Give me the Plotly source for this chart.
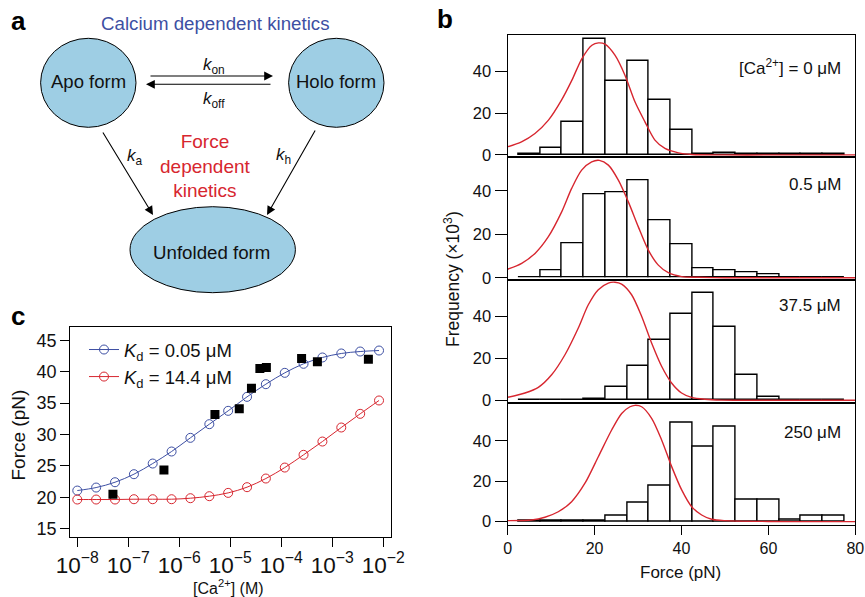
import plotly.graph_objects as go

W, H = 865, 597
FONT = "Liberation Sans, Arial, Helvetica, sans-serif"
BLUE = "#3D4FA3"
RED = "#D7262F"
FILL = "#9ECEE4"

# ---------------- Panel c data ----------------
conc = [1.0e-8, 2.34e-8, 5.49e-8, 1.29e-7, 3.01e-7, 7.06e-7, 1.65e-6, 3.88e-6,
        9.08e-6, 2.13e-5, 4.98e-5, 1.17e-4, 2.73e-4, 6.4e-4, 1.5e-3, 3.52e-3, 8.24e-3]
force_kd005 = [21.06, 21.54, 22.39, 23.67, 25.37, 27.29, 29.47, 31.65, 33.78,
               36.01, 38.03, 39.84, 41.28, 42.29, 42.93, 43.24, 43.40]
force_kd144 = [19.63, 19.63, 19.63, 19.68, 19.68, 19.68, 19.84, 20.16, 20.69,
               21.6, 22.98, 24.73, 26.76, 28.88, 31.12, 33.30, 35.43]
exp_conc = [5e-8, 5e-7, 5e-6, 1.5e-5, 2.6e-5, 3.8e-5, 5.1e-5, 2.5e-4, 5.1e-4, 5.1e-3]
exp_force = [20.48, 24.36, 33.19, 34.10, 37.39, 40.53, 40.69, 42.13, 41.60, 42.02]

# ---------------- Panel b data ----------------
bins = [5, 10, 15, 20, 25, 30, 35, 40, 45, 50, 55, 60, 65, 70, 75]
freq_0 = [0.4, 3.1, 15.7, 55.7, 35.7, 44.9, 26.6, 12.2, 0.2, 1.0, 0.2, 0.2, 0.2, 0.2, 0.2]
freq_05 = [0.4, 3.2, 16.0, 38.6, 39.3, 44.6, 26.5, 15.2, 4.3, 3.5, 2.6, 1.8, 0.2, 0.2, 0.2]
freq_375 = [0.3, 0.3, 0.3, 0.8, 6.2, 16.4, 29.0, 41.3, 51.2, 35.2, 12.1, 1.7, 0.2, 0.2, 0.2]
freq_250 = [0.3, 0.3, 0.3, 0.3, 2.8, 9.4, 17.6, 48.7, 37.2, 47.1, 11.0, 11.0, 1.2, 2.8, 2.8]

fit0_x = [0, 3.2, 6.3, 9.4, 12.4, 14.8, 17.1, 19.4, 20.9, 22.4, 24.7, 27.0, 29.3, 31.6,
          33.9, 36.2, 39.3, 42.4, 50, 60, 70, 80]
fit0_y = [3.9, 6.3, 10.3, 16.7, 26.3, 35.9, 46.3, 52.7, 53.8, 53.2, 47.9, 38.3, 25.5, 15.9,
          7.1, 3.1, 1.0, 0.2, 0, 0, 0, 0]
fit05_x = [0, 3.24, 6.31, 9.38, 12.44, 14.74, 17.04, 19.34, 21.1, 23.18, 25.48, 27.78,
           30.08, 32.38, 34.68, 36.98, 40.05, 43.9, 50, 60, 70, 80]
fit05_y = [3.9, 6.6, 11.2, 18.9, 30.3, 41.1, 49.5, 53.3, 54.0, 51.8, 44.9, 34.9, 23.4,
           12.7, 5.8, 2.3, 0.5, 0.2, 0, 0, 0, 0]
fit375_x = [0, 4.0, 7.07, 10.13, 13.2, 16.27, 18.57, 20.87, 23.17, 24.7, 26.23, 28.53,
            30.83, 33.13, 35.43, 37.73, 40.03, 42.33, 45.4, 49.2, 60, 70, 80]
fit375_y = [1.4, 3.5, 6.2, 12.2, 21.8, 34.6, 45.7, 52.9, 56.1, 56.5, 55.6, 50.5, 40.2,
            27.4, 16.3, 8.3, 3.5, 1.4, 0.5, 0.1, 0, 0, 0]
fit250_x = [0, 5.52, 8.59, 11.66, 14.73, 17.8, 20.87, 23.94, 26.24, 28.16, 29.31, 30.84,
            33.14, 35.44, 37.75, 40.05, 42.35, 44.65, 46.95, 50.02, 60, 70, 80]
fit250_y = [0.5, 0.8, 2.2, 4.9, 9.9, 19.0, 32.1, 45.3, 53.5, 56.8, 57.5, 56.8, 51.1,
            40.4, 27.2, 15.7, 7.4, 3.3, 1.2, 0.5, 0.1, 0, 0]

panel_labels = ["[Ca<sup>2+</sup>] = 0 μM", "0.5 μM", "37.5 μM", "250 μM"]
freq_sets = [freq_0, freq_05, freq_375, freq_250]
fit_sets = [(fit0_x, fit0_y), (fit05_x, fit05_y), (fit375_x, fit375_y), (fit250_x, fit250_y)]


def px(x):
    return x / W


def py(y):
    return 1 - y / H


fig = go.Figure()

# ---- panel b histograms ----
panel_tops = [35, 157.3, 279.9, 402.7, 524.7]
y_ranges = [[-1.15, 57.6], [-1.0, 55.4], [-1.15, 57.6], [-1.5, 58.8]]
label_y = [66.7, 185, 305, 432.7]
for i in range(4):
    xa = "x%d" % (i + 2)
    ya = "y%d" % (i + 2)
    fig.add_trace(go.Bar(x=bins, y=freq_sets[i], width=5, xaxis=xa, yaxis=ya,
                         marker=dict(color="white", line=dict(color="black", width=1.4)),
                         showlegend=False, hoverinfo="skip"))
    fx, fy = fit_sets[i]
    fig.add_trace(go.Scatter(x=fx, y=fy, mode="lines", xaxis=xa, yaxis=ya,
                             line=dict(color=RED, width=1.4, shape="spline", smoothing=0.8),
                             showlegend=False, hoverinfo="skip"))

# ---- panel c ----
fig.add_trace(go.Scatter(x=conc, y=force_kd005, mode="lines+markers",
                         name="<i>K</i><sub>d</sub> = 0.05 μM",
                         line=dict(color=BLUE, width=1, shape="spline"),
                         marker=dict(symbol="circle-open", size=9, color=BLUE, line=dict(width=1))))
fig.add_trace(go.Scatter(x=conc, y=force_kd144, mode="lines+markers",
                         name="<i>K</i><sub>d</sub> = 14.4 μM",
                         line=dict(color=RED, width=1, shape="spline"),
                         marker=dict(symbol="circle-open", size=9, color=RED, line=dict(width=1))))
fig.add_trace(go.Scatter(x=exp_conc, y=exp_force, mode="markers", showlegend=False,
                         marker=dict(symbol="square", size=9, color="black")))

axis_common = dict(showline=True, mirror=True, linecolor="black", linewidth=1.2,
                   showgrid=False, zeroline=False, tickcolor="black", tickwidth=1.2,
                   automargin=False, ticklabeloverflow="allow",
                   tickfont=dict(family=FONT, size=18, color="#111"))

layout = dict(
    template="none",
    width=W, height=H, margin=dict(l=0, r=0, t=0, b=0, pad=0),
    paper_bgcolor="white", plot_bgcolor="white",
    font=dict(family=FONT, color="#111"),
    bargap=0,
    showlegend=True,
    legend=dict(x=px(84), y=py(331), xanchor="left", yanchor="top",
                bgcolor="rgba(0,0,0,0)", font=dict(family=FONT, size=18.5, color="#111"),
                itemwidth=30, tracegroupgap=0, borderwidth=0),
    xaxis=dict(axis_common, type="log", range=[-8.137, -1.855], dtick=1,
               exponentformat="power", ticks="outside", ticklen=9,
               domain=[px(70.3), px(390.7)], anchor="y"),
    yaxis=dict(axis_common, range=[13.7, 47.2], tickvals=[15, 20, 25, 30, 35, 40, 45],
               ticks="outside", ticklen=9,
               domain=[py(536.7), py(326.7)], anchor="x"),
)

for i in range(4):
    top, bot = panel_tops[i], panel_tops[i + 1]
    last = (i == 3)
    layout["xaxis%d" % (i + 2)] = dict(axis_common, range=[0, 80],
                                       domain=[px(507.6), px(855.3)], anchor="y%d" % (i + 2),
                                       tickvals=[0, 20, 40, 60, 80],
                                       ticks="outside" if last else "", ticklen=9,
                                       showticklabels=last,
                                       tickfont=dict(family=FONT, size=16, color="#111"))
    layout["yaxis%d" % (i + 2)] = dict(axis_common, range=y_ranges[i],
                                       domain=[py(bot), py(top)], anchor="x%d" % (i + 2),
                                       tickvals=[0, 20, 40], ticks="outside", ticklen=12,
                                       tickfont=dict(family=FONT, size=16.5, color="#111"))

fig.update_layout(**layout)

# ---- panel a diagram (layout shapes) ----
ellipses = [(88.3, 82.8, 47.7, 44.5), (336.3, 82.8, 47.7, 44.5), (212.7, 249.7, 82.7, 43)]
for cx, cy, rx, ry in ellipses:
    fig.add_shape(type="circle", xref="paper", yref="paper",
                  x0=px(cx - rx), x1=px(cx + rx), y0=py(cy + ry), y1=py(cy - ry),
                  fillcolor=FILL, line=dict(color="black", width=1), layer="below")

arrows = [((149, 76), (273, 76)), ((272, 84.3), (146, 84.3)),
          ((102, 131), (153, 215)), ((316, 129), (267, 215))]
for (tx, ty), (hx, hy) in arrows:
    fig.add_annotation(x=px(hx), y=py(hy), xref="paper", yref="paper", text="",
                       showarrow=True, ax=tx - hx, ay=ty - hy, arrowhead=2,
                       arrowsize=1.6, arrowwidth=1.1, arrowcolor="black", standoff=0)


def txt(x, y, s, size=17, color="#111", xanchor="center", angle=0, bold=False):
    if bold:
        s = "<b>" + s + "</b>"
    fig.add_annotation(x=px(x), y=py(y), xref="paper", yref="paper", text=s,
                       showarrow=False, xanchor=xanchor, yanchor="middle", textangle=angle,
                       font=dict(family=FONT, size=size, color=color))


txt(215, 23.5, "Calcium dependent kinetics", 18.7, BLUE)
txt(88.5, 82, "Apo form", 18.5)
txt(336, 82, "Holo form", 18.5)
txt(211, 252, "Unfolded form", 18.7)
txt(205, 166, "Force<br>dependent<br>kinetics", 19, RED)
txt(214, 66, "<i>k</i><sub>on</sub>", 17)
txt(214, 100, "<i>k</i><sub>off</sub>", 17)
txt(135, 157, "<i>k</i><sub>a</sub>", 17)
txt(283, 156, "<i>k</i><sub>h</sub>", 17)

# panel letters
txt(18, 21, "a", 26, "black", bold=True)
txt(445, 19, "b", 26, "black", bold=True)
txt(18, 316, "c", 26, "black", bold=True)

# panel b labels
for i in range(4):
    txt(842.7, label_y[i], panel_labels[i], 17, "#111", xanchor="right")

# axis titles
txt(680, 572, "Force (pN)", 17)
txt(452, 279, "Frequency (×10<sup>3</sup>)", 17.5, angle=-90)
txt(17.5, 435, "Force (pN)", 19, angle=-90)
txt(229, 587, "[Ca<sup>2+</sup>] (M)", 16)

fig.write_html("out.html")
